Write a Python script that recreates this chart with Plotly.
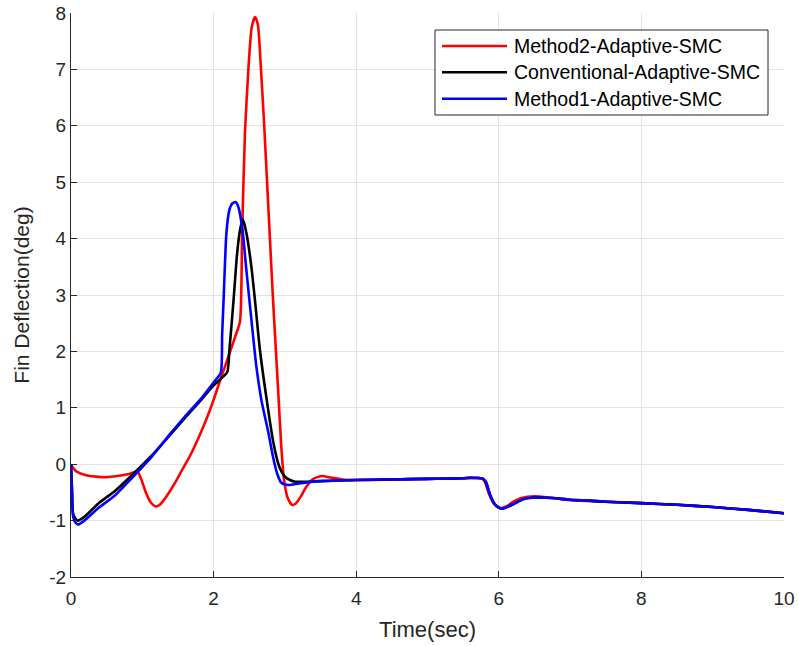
import plotly.graph_objects as go

# Method2-Adaptive-SMC (red)
t_m2 = [0.0, 0.03, 0.08, 0.2, 0.35, 0.5, 0.65, 0.8, 0.93, 0.98, 1.05, 1.12, 1.19, 1.26, 1.35, 1.45,
        1.55, 1.67, 1.8, 1.9, 2.0, 2.1, 2.2, 2.3, 2.37, 2.40, 2.44, 2.49, 2.535, 2.58, 2.62, 2.66,
        2.71, 2.75, 2.79, 2.83, 2.87, 2.91, 2.95, 2.99, 3.04, 3.1, 3.15, 3.22, 3.3, 3.4, 3.52, 3.65,
        3.8, 4.0, 4.5, 5.0, 5.5, 5.76, 5.8, 5.86, 5.93, 6.02, 6.1, 6.2, 6.32, 6.5, 6.7, 7.0, 7.5,
        8.0, 8.5, 9.0, 9.5, 10.0]
y_m2 = [0.0, -0.07, -0.13, -0.19, -0.22, -0.23, -0.21, -0.18, -0.13, -0.25, -0.5, -0.68, -0.75, -0.7,
        -0.55, -0.35, -0.12, 0.15, 0.5, 0.8, 1.14, 1.52, 1.88, 2.25, 2.53, 4.1, 5.87, 7.05, 7.75, 7.93,
        7.8, 7.1, 6.0, 5.0, 4.0, 3.0, 2.1, 1.2, 0.3, -0.3, -0.6, -0.72, -0.7, -0.58, -0.4, -0.26,
        -0.21, -0.24, -0.27, -0.28, -0.27, -0.26, -0.25, -0.25, -0.3, -0.52, -0.7, -0.78, -0.75, -0.67,
        -0.6, -0.57, -0.59, -0.64, -0.665, -0.69, -0.72, -0.76, -0.81, -0.87]

# Conventional-Adaptive-SMC (black)
t_conv = [0.0, 0.015, 0.03, 0.09, 0.2, 0.38, 0.62, 0.85, 1.13, 1.5, 1.81, 2.0, 2.19, 2.22, 2.28,
          2.33, 2.37, 2.41, 2.46, 2.53, 2.58, 2.65, 2.745, 2.84, 2.92, 3.0, 3.07, 3.15, 3.3, 3.5,
          4.0, 4.5, 5.0, 5.5, 5.6, 5.78, 5.82, 5.88, 5.95, 6.04, 6.2, 6.34, 6.53, 6.76, 7.0, 7.28,
          7.5, 8.0, 8.5, 9.0, 9.5, 10.0]
y_conv = [0.0, -0.5, -0.88, -1.0, -0.92, -0.7, -0.47, -0.2, 0.15, 0.68, 1.12, 1.4, 1.63, 2.0, 2.91,
          3.74, 4.15, 4.34, 4.1, 3.5, 2.91, 2.02, 1.14, 0.37, -0.04, -0.22, -0.28, -0.31, -0.31, -0.3,
          -0.28, -0.27, -0.26, -0.25, -0.24, -0.26, -0.32, -0.55, -0.72, -0.79, -0.71, -0.62, -0.59,
          -0.6, -0.63, -0.645, -0.665, -0.69, -0.72, -0.76, -0.81, -0.87]

# Method1-Adaptive-SMC (blue)
t_m1 = [0.0, 0.015, 0.03, 0.06, 0.1, 0.196, 0.38, 0.62, 0.85, 1.13, 1.4, 1.6, 1.81, 2.0, 2.10,
        2.12, 2.14, 2.18, 2.22, 2.26, 2.31, 2.35, 2.41, 2.455, 2.55, 2.60, 2.67, 2.77, 2.83, 2.89,
        2.95, 3.05, 3.2, 3.5, 4.0, 4.5, 5.0, 5.5, 5.6, 5.78, 5.82, 5.88, 5.95, 6.04, 6.2, 6.34,
        6.53, 6.76, 7.0, 7.28, 7.5, 8.0, 8.5, 9.0, 9.5, 10.0]
y_m1 = [0.0, -0.5, -0.93, -1.03, -1.07, -0.99, -0.78, -0.55, -0.25, 0.13, 0.55, 0.85, 1.14, 1.45,
        1.62, 2.3, 2.91, 4.1, 4.5, 4.62, 4.65, 4.55, 4.1, 3.5, 2.32, 1.73, 1.14, 0.55, 0.15, -0.16,
        -0.33, -0.37, -0.34, -0.3, -0.28, -0.27, -0.26, -0.25, -0.24, -0.26, -0.32, -0.55, -0.72,
        -0.79, -0.71, -0.62, -0.59, -0.6, -0.63, -0.645, -0.665, -0.69, -0.72, -0.76, -0.81, -0.87]

series_names = ["Method2-Adaptive-SMC", "Conventional-Adaptive-SMC", "Method1-Adaptive-SMC"]
series_colors = ["#FF0000", "#000000", "#0000FF"]

x_ticks = [0, 2, 4, 6, 8, 10]
y_ticks = [-2, -1, 0, 1, 2, 3, 4, 5, 6, 7, 8]

FONT = "Liberation Sans, Arial, Helvetica, sans-serif"

W, H = 798, 646
L, T = 71, 13
PW, PH = 784 - 71, 577 - 13
R = W - L - PW
B = H - T - PH


def px_to_paper(px, py):
    return (px - L) / PW, (T + PH - py) / PH


fig = go.Figure()
for xs, ys, nm, col in zip([t_m2, t_conv, t_m1], [y_m2, y_conv, y_m1], series_names, series_colors):
    fig.add_trace(go.Scatter(x=xs, y=ys, mode="lines", name=nm, showlegend=False,
                             line=dict(color=col, width=2.6, shape="spline", smoothing=0.6)))

# Manual legend (MATLAB style) -- box and long line samples
shapes = []
annotations = []
bx0, by0 = px_to_paper(435, 115)
bx1, by1 = px_to_paper(768, 30)
shapes.append(dict(type="rect", xref="paper", yref="paper", x0=bx0, y0=by0, x1=bx1, y1=by1,
                   line=dict(color="#262626", width=1), fillcolor="white", layer="above"))
row_y = [46, 72.3, 98.7]
for nm, col, ry in zip(series_names, series_colors, row_y):
    lx0, ly = px_to_paper(442, ry)
    lx1, _ = px_to_paper(507, ry)
    shapes.append(dict(type="line", xref="paper", yref="paper", x0=lx0, x1=lx1, y0=ly, y1=ly,
                       line=dict(color=col, width=2.6), layer="above"))
    tx, _ = px_to_paper(512, ry)
    annotations.append(dict(xref="paper", yref="paper", x=tx, y=ly, text=nm, showarrow=False,
                            xanchor="left", yanchor="middle",
                            font=dict(family=FONT, size=19.5, color="#000000")))

fig.update_layout(
    width=W, height=H,
    margin=dict(l=L, r=R, t=T, b=B),
    paper_bgcolor="white", plot_bgcolor="white",
    font=dict(family=FONT, size=19, color="#262626"),
    showlegend=False,
    shapes=shapes, annotations=annotations,
)
fig.update_xaxes(range=[0, 10], tickvals=x_ticks, ticktext=[str(v) for v in x_ticks],
                 automargin=False, ticklabeloverflow="allow",
                 showgrid=True, gridcolor="#E3E3E3", gridwidth=1,
                 showline=True, linecolor="#262626", linewidth=1.3,
                 ticks="inside", ticklen=6, tickcolor="#262626",
                 zeroline=False, mirror=False, ticklabelstandoff=4,
                 title=dict(text="Time(sec)", font=dict(family=FONT, size=22, color="#262626"), standoff=13),
                 tickfont=dict(family=FONT, size=19, color="#262626"))
fig.update_yaxes(range=[-2, 8], tickvals=y_ticks, ticktext=[str(v) for v in y_ticks],
                 automargin=False, ticklabeloverflow="allow",
                 showgrid=True, gridcolor="#E3E3E3", gridwidth=1,
                 showline=True, linecolor="#262626", linewidth=1.3,
                 ticks="inside", ticklen=6, tickcolor="#262626",
                 zeroline=False, mirror=False,
                 title=dict(text="Fin Deflection(deg)", font=dict(family=FONT, size=21, color="#262626"), standoff=13),
                 tickfont=dict(family=FONT, size=19, color="#262626"))

# Remove the default 8px page margin so the figure fills the window exactly.
fig.write_html("out.html", config={"displayModeBar": False},
               post_script="document.body.style.margin='0';")
